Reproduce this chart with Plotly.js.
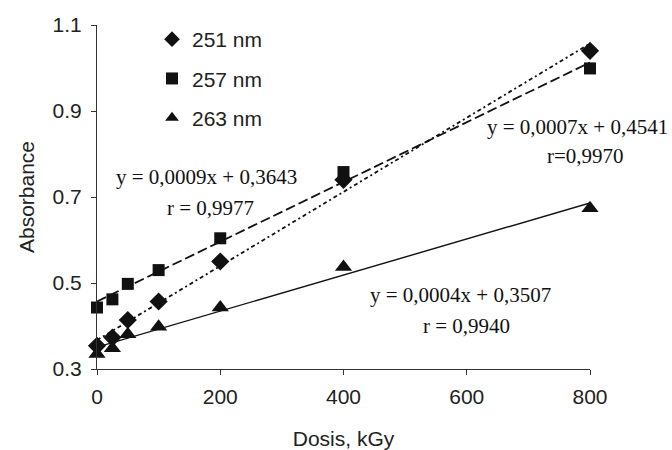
<!DOCTYPE html>
<html>
<head>
<meta charset="utf-8">
<script src="https://cdn.plot.ly/plotly-3.0.1.min.js"></script>
<style>html,body{margin:0;padding:0;background:#fff;}#chart{width:672px;height:450px;}</style>
</head>
<body>
<div id="chart"></div>
<script>
// Data
const dose = [0, 25, 50, 100, 200, 400, 800];
const abs251 = [0.354, 0.373, 0.414, 0.457, 0.550, 0.740, 1.040];
const abs257 = [0.443, 0.462, 0.498, 0.530, 0.604, 0.758, 0.999];
const abs263 = [0.335, 0.348, 0.381, 0.398, 0.443, 0.537, 0.674];
const seriesNames = ['251 nm', '257 nm', '263 nm'];
const fitLabels = [
  ['y = 0,0009x + 0,3643', 'r = 0,9977'],
  ['y = 0,0007x + 0,4541', 'r=0,9970'],
  ['y = 0,0004x + 0,3507', 'r = 0,9940']
];
const xTicks = [0, 200, 400, 600, 800];
const yTicks = [0.3, 0.5, 0.7, 0.9, 1.1];

// least-squares trendline from the data
function fit(x, y) {
  const n = x.length;
  const mx = x.reduce((a, b) => a + b, 0) / n;
  const my = y.reduce((a, b) => a + b, 0) / n;
  let sxy = 0, sxx = 0;
  for (let i = 0; i < n; i++) { sxy += (x[i] - mx) * (y[i] - my); sxx += (x[i] - mx) ** 2; }
  const m = sxy / sxx, b = my - m * mx;
  const xs = [x[0], x[n - 1]];
  return {x: xs, y: xs.map(v => m * v + b)};
}

const symbols = ['diamond', 'square', 'triangle-up'];
const sizes = [14, 12, 15];
const dashes = ['4px,3px,2px,3px', '10px,4px', 'solid'];
const allY = [abs251, abs257, abs263];

const traces = [];
allY.forEach((ys, i) => {
  const f = fit(dose, ys);
  traces.push({x: f.x, y: f.y, mode: 'lines', showlegend: false, hoverinfo: 'skip',
    line: {color: '#111', width: i === 2 ? 1.4 : 1.8, dash: dashes[i]}, cliponaxis: false});
});
allY.forEach((ys, i) => {
  traces.push({x: dose, y: ys, mode: 'markers', name: seriesNames[i], cliponaxis: false,
    legendgroup: 'g' + i,
    marker: {symbol: symbols[i], size: sizes[i], color: '#111', line: {width: 0}}});
});

const serif = {family: 'Liberation Serif, Times New Roman, serif', size: 21, color: '#111'};
const annPos = [
  [[206, 177], [210, 208]],
  [[577, 127], [585, 156]],
  [[460, 295], [466, 326]]
];
// convert pixel positions into paper coordinates for annotations
const L = 97, R = 590, T = 25, B = 369;
const annotations = [];
fitLabels.forEach((lab, i) => {
  lab.forEach((t, j) => {
    const [px, py] = annPos[i][j];
    annotations.push({xref: 'paper', yref: 'paper', x: (px - L) / (R - L), y: (B - py) / (B - T),
      text: t, showarrow: false, font: serif, xanchor: 'center', yanchor: 'middle'});
  });
});

const sans = {family: 'Liberation Sans, Arial, sans-serif', size: 21, color: '#222'};
const layout = {
  width: 672, height: 450,
  margin: {l: L, r: 672 - R, t: T, b: 450 - B, pad: 0},
  paper_bgcolor: '#fff', plot_bgcolor: '#fff',
  font: sans,
  showlegend: true,
  legend: {x: (152 - L) / (R - L), y: (B - 19) / (B - T), xanchor: 'left', yanchor: 'top',
    bgcolor: 'rgba(0,0,0,0)', font: sans, itemsizing: 'constant',
    traceorder: 'grouped', tracegroupgap: 9},
  xaxis: {range: [0, 800], tickvals: xTicks, ticktext: xTicks.map(String),
    showgrid: false, zeroline: false, showline: true, linecolor: '#333', linewidth: 1,
    ticks: 'outside', ticklen: 5, tickcolor: '#333', tickfont: sans, ticklabelstandoff: 4,
    title: {text: 'Dosis, kGy', font: sans, standoff: 25}, automargin: false},
  yaxis: {range: [0.3, 1.1], tickvals: yTicks, ticktext: yTicks.map(v => v.toFixed(1)),
    showgrid: false, zeroline: false, showline: true, linecolor: '#333', linewidth: 1,
    ticks: 'outside', ticklen: 5, tickcolor: '#333', tickfont: sans, ticklabelstandoff: 5,
    title: {text: 'Absorbance', font: sans, standoff: 12}, automargin: false},
  annotations: annotations
};

Plotly.newPlot('chart', traces, layout, {displayModeBar: false, staticPlot: true});
</script>
</body>
</html>
